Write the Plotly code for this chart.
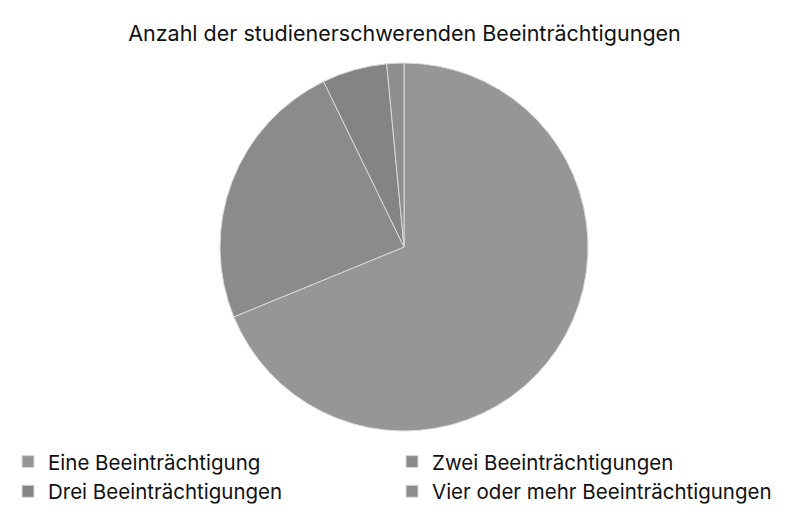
import plotly.graph_objects as go

# Daten
labels = ["Eine Beeinträchtigung", "Zwei Beeinträchtigungen",
          "Drei Beeinträchtigungen", "Vier oder mehr Beeinträchtigungen"]
values = [68.8, 24.0, 5.7, 1.5]
colors = ["#969696", "#8b8b8b", "#848484", "#8e8e8e"]

fig = go.Figure()
fig.add_trace(go.Pie(
    labels=labels,
    values=values,
    sort=False,
    direction="clockwise",
    rotation=0,
    marker=dict(colors=colors, line=dict(color="#d9d9d9", width=1)),
    textinfo="none",
    hoverinfo="label+percent",
    domain=dict(x=[0.2614, 0.7152], y=[0.2004, 0.8960]),
))

fig.update_layout(
    width=811, height=529,
    margin=dict(l=0, r=0, t=0, b=0),
    paper_bgcolor="white",
    font=dict(family="Inter, Open Sans, sans-serif", color="#111111"),
    title=dict(text="Anzahl der studienerschwerenden Beeinträchtigungen",
               x=0.4889, xanchor="center", y=0.951, yanchor="middle",
               font=dict(size=21.5, color="#111111")),
    legend=dict(orientation="h", x=0.0, xanchor="left", y=0.18, yanchor="top",
                entrywidth=0.4735, entrywidthmode="fraction",
                font=dict(size=20.5), tracegroupgap=0, itemclick=False),
)

fig.write_html("out.html")
